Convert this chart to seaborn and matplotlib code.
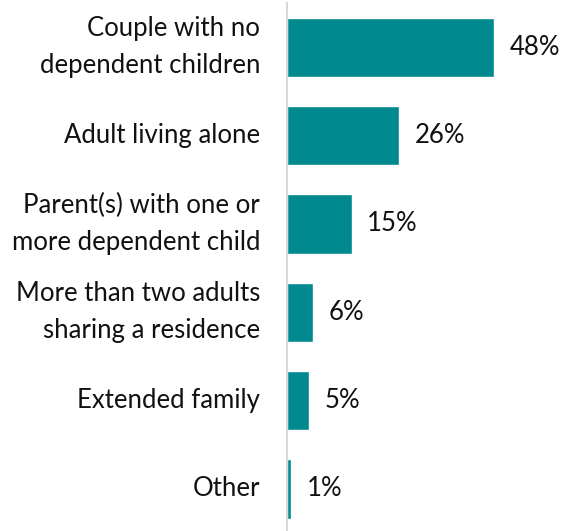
import matplotlib
matplotlib.use("Agg")
import pandas as pd
import seaborn as sns
import matplotlib.pyplot as plt

# Données du graphique
categories = [
    "Couple with no\ndependent children",
    "Adult living alone",
    "Parent(s) with one or\nmore dependent child",
    "More than two adults\nsharing a residence",
    "Extended family",
    "Other",
]
valeurs = [48, 26, 15, 6, 5, 1]
etiquettes = ["48%", "26%", "15%", "6%", "5%", "1%"]

df = pd.DataFrame({"categorie": categories, "valeur": valeurs})

sns.set_style("white")
plt.rcParams["font.family"] = ["Lato", "DejaVu Sans"]

fig = plt.figure(figsize=(5.62, 5.31), dpi=100)
ax = fig.add_axes([0.511, -0.004, 0.489, 0.998])

sns.barplot(data=df, x="valeur", y="categorie", color="#00898F",
            width=0.67, saturation=1, ax=ax)

# Étiquettes de valeurs
for i, (v, t) in enumerate(zip(valeurs, etiquettes)):
    ax.text(v + 3.6, i, t, va="center", ha="left", fontsize=18.5, color="#111111")

ax.set_xlim(0, 63.8)
ax.set_ylim(5.5, -0.5)
ax.set_xlabel("")
ax.set_ylabel("")
ax.set_xticks([])
ax.tick_params(axis="y", length=0, pad=19.5, labelsize=18.5, labelcolor="#111111")
for lbl in ax.get_yticklabels():
    lbl.set_horizontalalignment("right")
    lbl.set_verticalalignment("center")
    lbl.set_multialignment("right")
    lbl.set_linespacing(1.6)

for s in ["top", "right", "bottom"]:
    ax.spines[s].set_visible(False)
ax.spines["left"].set_color("#D9D9D9")
ax.spines["left"].set_linewidth(1.5)

fig.savefig("out.png", dpi=100)
